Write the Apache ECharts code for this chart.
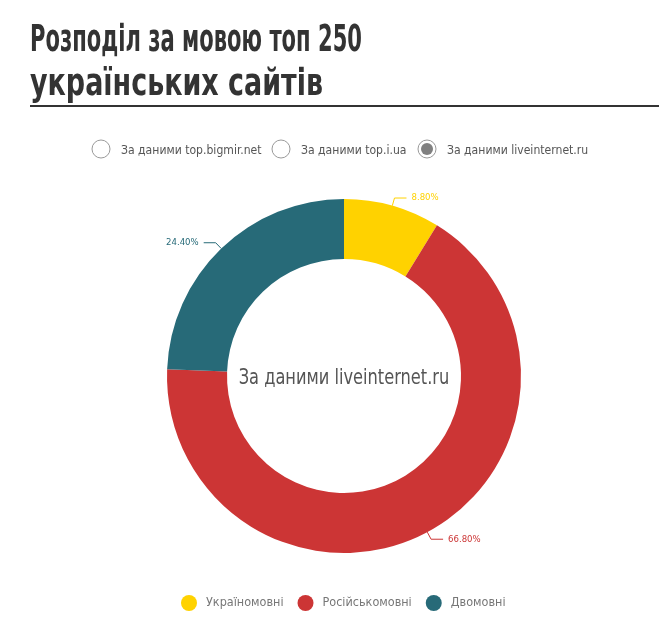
<!DOCTYPE html>
<html>
<head>
<meta charset="utf-8">
<script src="https://cdn.jsdelivr.net/npm/echarts@6/dist/echarts.min.js"></script>
<style>
html,body{margin:0;padding:0;background:#fff}
#chart{width:659px;height:641px}
</style>
</head>
<body>
<div id="chart"></div>
<script>
var FONT = "'Liberation Sans Narrow', 'DejaVu Sans Condensed', sans-serif";

// data
var titleLines = ['Розподіл за мовою топ 250', 'українських сайтів'];
var sources = ['За даними top.bigmir.net', 'За даними top.i.ua', 'За даними liveinternet.ru'];
var activeSource = 2;
var categories = ['Україномовні', 'Російськомовні', 'Двомовні'];
var values = [8.8, 66.8, 24.4];
var colors = ['#FFD200', '#CC3535', '#276A78'];

var chart = echarts.init(document.getElementById('chart'));

var graphics = [];

// title, each line squeezed to the width it has in a narrow font
var titleFont = 'bold 37px ' + FONT;
var titleY = [60, 104];
var titleW = [332, 293];
var ctx = document.createElement('canvas').getContext('2d');
ctx.font = titleFont;
for (var i = 0; i < titleLines.length; i++) {
    graphics.push({
        type: 'text',
        x: 30,
        y: titleY[i],
        scaleX: titleW[i] / ctx.measureText(titleLines[i]).width,
        style: {
            text: titleLines[i],
            font: titleFont,
            fill: '#333',
            textVerticalAlign: 'bottom'
        }
    });
}
graphics.push({
    type: 'rect',
    shape: {x: 30, y: 105, width: 629, height: 2},
    style: {fill: '#333'}
});

// radio buttons above the chart
var radioX = [101, 281, 427];
for (var i = 0; i < sources.length; i++) {
    graphics.push({
        type: 'circle',
        shape: {cx: radioX[i], cy: 149, r: 9},
        style: {fill: '#fff', stroke: '#9a9a9a', lineWidth: 1}
    });
    if (i == activeSource) {
        graphics.push({
            type: 'circle',
            shape: {cx: radioX[i], cy: 149, r: 6},
            style: {fill: '#808080'}
        });
    }
    graphics.push({
        type: 'text',
        x: radioX[i] + 20,
        y: 151,
        scaleX: 0.93,
        style: {text: sources[i], font: '13px ' + FONT, fill: '#555', textVerticalAlign: 'middle'}
    });
}

// caption in the hole of the donut
graphics.push({
    type: 'text',
    x: 344,
    y: 378,
    scaleX: 0.82,
    style: {
        text: sources[activeSource],
        font: '22px ' + FONT,
        fill: '#555',
        textAlign: 'center',
        textVerticalAlign: 'middle'
    }
});

var pieData = [];
for (var i = 0; i < categories.length; i++) {
    pieData.push({
        name: categories[i],
        value: values[i],
        itemStyle: {color: colors[i]},
        label: {color: colors[i]},
        labelLine: {lineStyle: {color: colors[i]}}
    });
}

var option = {
    backgroundColor: '#fff',
    textStyle: {fontFamily: FONT},
    graphic: graphics,
    legend: {
        data: categories,
        bottom: 25,
        left: 176,
        icon: 'circle',
        itemWidth: 16,
        itemHeight: 16,
        itemGap: 14,
        textStyle: {fontSize: 12.5, color: '#777', fontFamily: FONT, padding: [0, 0, 0, 4]}
    },
    series: [{
        type: 'pie',
        center: [344, 376],
        radius: [117, 177],
        startAngle: 90,
        clockwise: true,
        avoidLabelOverlap: false,
        label: {
            formatter: function (p) { return p.value.toFixed(2) + '%'; },
            fontSize: 9.5,
            fontFamily: FONT
        },
        labelLine: {length: 8, length2: 12},
        data: pieData
    }]
};

chart.setOption(option);
</script>
</body>
</html>
